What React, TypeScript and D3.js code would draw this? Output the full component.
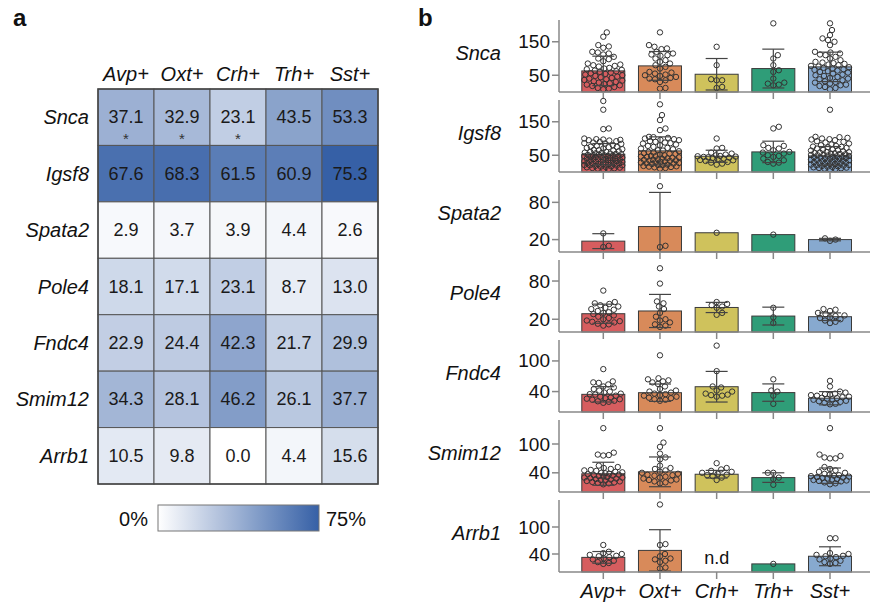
import React from "react";
import * as d3 from "d3";

const cellTypes = ["Avp+", "Oxt+", "Crh+", "Trh+", "Sst+"];
const genes = ["Snca", "Igsf8", "Spata2", "Pole4", "Fndc4", "Smim12", "Arrb1"];

// Panel a: percentage of cells expressing each gene
const heatSnca = [37.1, 32.9, 23.1, 43.5, 53.3];
const heatIgsf8 = [67.6, 68.3, 61.5, 60.9, 75.3];
const heatSpata2 = [2.9, 3.7, 3.9, 4.4, 2.6];
const heatPole4 = [18.1, 17.1, 23.1, 8.7, 13.0];
const heatFndc4 = [22.9, 24.4, 42.3, 21.7, 29.9];
const heatSmim12 = [34.3, 28.1, 46.2, 26.1, 37.7];
const heatArrb1 = [10.5, 9.8, 0.0, 4.4, 15.6];
const heatStars = [[0, 0], [0, 1], [0, 2]]; // [geneIndex, cellIndex]
const heatRows = [heatSnca, heatIgsf8, heatSpata2, heatPole4, heatFndc4, heatSmim12, heatArrb1];

// Panel b: bar means, SDs and individual cells
const meanSnca = [63, 78, 53, 70, 75];
const sdSnca = [44, 43, 47, 58, 44];
const meanIgsf8 = [53, 63, 47, 60, 48];
const sdIgsf8 = [32, 42, 18, 32, 28];
const meanSpata2 = [17.5, 41, 31, 28, 20];
const sdSpata2 = [12, 55, 0, 0, 2];
const meanPole4 = [28.7, 33, 38.5, 25, 24];
const sdPole4 = [15, 26, 8, 14, 6];
const meanFndc4 = [34.6, 37.8, 49.5, 38, 27];
const sdFndc4 = [15, 17, 30, 17, 13];
const meanSmim12 = [38, 42, 37, 30, 34];
const sdSmim12 = [24, 31, 8, 10, 16];
const meanArrb1 = [32.5, 48, null, 18, 35];
const sdArrb1 = [13, 46, 0, 0, 21];

const ptsSnca = [
  [178, 165, 140, 136, 132, 120, 118, 115, 112, 105, 100, 98, 92, 85, 82, 80, 78, 76, 72, 70, 68, 66, 64, 62, 60, 58, 56, 54, 52, 50, 48, 46, 44, 42, 40, 38, 36, 34, 32, 30, 28, 26, 24, 22, 20, 18, 15, 12, 10, 8],
  [178, 140, 135, 130, 128, 120, 115, 112, 110, 108, 100, 95, 90, 85, 80, 75, 70, 60, 58, 55, 52, 50, 48, 45, 42, 40, 38, 35, 30, 12, 10],
  [135, 80, 38, 35, 35, 15, 12],
  [205, 110, 100, 80, 65, 60, 40, 28, 25, 22, 20],
  [205, 185, 170, 160, 155, 150, 140, 120, 118, 115, 112, 110, 105, 100, 95, 90, 88, 86, 84, 82, 80, 78, 76, 74, 72, 70, 68, 66, 64, 62, 60, 58, 55, 52, 50, 48, 45, 42, 40, 38, 35, 32, 30, 28, 25, 22, 20, 18, 15, 12, 8],
];
const ptsIgsf8 = [
  [212, 186, 130, 128, 100, 98, 97, 96, 95, 94, 92, 90, 88, 86, 85, 84, 80, 78, 76, 75, 74, 72, 70, 68, 66, 65, 64, 62, 60, 60, 58, 57, 56, 55, 54, 53, 52, 51, 50, 50, 49, 48, 47, 46, 45, 45, 44, 43, 42, 41, 40, 40, 39, 38, 37, 36, 35, 35, 34, 33, 32, 31, 30, 30, 29, 28, 27, 26, 25, 25, 24, 23, 22, 21, 20, 20, 19, 18, 17, 16, 15, 14, 13, 12, 11, 10, 9, 8],
  [202, 170, 155, 130, 125, 105, 104, 102, 100, 98, 96, 95, 92, 90, 88, 86, 85, 82, 80, 78, 75, 72, 70, 68, 65, 64, 62, 60, 58, 56, 55, 54, 52, 50, 48, 47, 46, 45, 44, 42, 41, 40, 38, 37, 36, 35, 34, 33, 32, 30, 29, 28, 27, 26, 25, 24, 22, 21, 20, 18, 17, 16, 15, 14, 12, 10],
  [100, 72, 70, 58, 55, 52, 50, 48, 47, 46, 45, 44, 43, 42, 40, 38, 36, 35, 33, 30, 28, 25, 22],
  [135, 130, 80, 78, 72, 70, 65, 60, 58, 55, 50, 48, 45, 40, 35, 30, 28, 25],
  [186, 105, 104, 102, 100, 98, 97, 95, 92, 90, 88, 85, 82, 80, 78, 76, 75, 74, 72, 70, 68, 66, 65, 64, 62, 60, 59, 58, 57, 56, 55, 54, 53, 52, 51, 50, 49, 48, 47, 46, 45, 44, 43, 42, 41, 40, 39, 38, 37, 36, 35, 34, 33, 32, 31, 30, 29, 28, 27, 26, 25, 24, 23, 22, 21, 20, 19, 18, 17, 16, 15, 14, 13, 12, 11, 10, 9, 8],
];
const ptsSpata2 = [[30, 10, 8], [106, 8, 10], [31], [28], [18, 20, 22]];
const ptsPole4 = [
  [65, 47, 45, 44, 42, 40, 38, 36, 35, 33, 31, 30, 28, 26, 24, 22, 20, 18, 17, 16, 15, 13, 12, 10],
  [100, 76, 48, 45, 40, 36, 30, 24, 20, 18, 15, 12, 10, 8],
  [47, 44, 42, 40, 38, 30, 27],
  [38, 14, 23],
  [36, 35, 33, 30, 28, 26, 25, 23, 22, 20, 18, 16, 14],
];
const ptsFndc4 = [
  [84, 60, 58, 57, 54, 50, 48, 45, 42, 40, 38, 36, 35, 34, 32, 30, 28, 27, 26, 25, 24, 22, 21, 20, 18],
  [111, 66, 64, 62, 60, 58, 55, 50, 45, 42, 40, 38, 36, 35, 33, 32, 30, 28, 27, 25, 24, 22],
  [130, 80, 50, 48, 42, 40, 36, 34, 33, 32, 30],
  [64, 42, 40, 32, 16],
  [61, 50, 40, 38, 36, 35, 34, 33, 32, 30, 29, 28, 27, 26, 25, 24, 22, 21, 20, 18, 16, 15],
];
const ptsSmim12 = [
  [133, 82, 78, 77, 76, 55, 52, 50, 48, 46, 45, 44, 42, 41, 40, 39, 38, 37, 36, 35, 34, 33, 32, 31, 30, 30, 29, 28, 27, 26, 25, 24, 23, 22, 21, 20, 19, 18, 16],
  [133, 103, 94, 80, 72, 68, 55, 50, 48, 45, 42, 40, 38, 36, 35, 34, 32, 30, 28, 26, 25, 24, 22, 20, 18],
  [60, 50, 47, 44, 42, 40, 38, 36, 35, 33, 30, 25],
  [40, 40, 30, 27, 15],
  [133, 78, 75, 72, 70, 70, 52, 48, 45, 42, 40, 38, 36, 35, 34, 33, 32, 31, 30, 29, 28, 27, 26, 25, 24, 23, 22, 20, 18, 16],
];
const ptsArrb1 = [
  [60, 45, 42, 40, 38, 36, 35, 33, 30, 28, 25, 22, 20, 18],
  [150, 62, 60, 40, 35, 30, 28, 25, 22, 10, 8],
  [],
  [18],
  [75, 75, 42, 40, 38, 36, 35, 33, 30, 28, 25, 22, 20, 18],
];

const yMax = [215, 215, 116, 113, 141, 150, 160];
const yTicks = [[50, 150], [50, 150], [20, 80], [20, 80], [40, 100], [40, 100], [40, 100]];

const panels = [
  { mean: meanSnca, sd: sdSnca, pts: ptsSnca },
  { mean: meanIgsf8, sd: sdIgsf8, pts: ptsIgsf8 },
  { mean: meanSpata2, sd: sdSpata2, pts: ptsSpata2 },
  { mean: meanPole4, sd: sdPole4, pts: ptsPole4 },
  { mean: meanFndc4, sd: sdFndc4, pts: ptsFndc4 },
  { mean: meanSmim12, sd: sdSmim12, pts: ptsSmim12 },
  { mean: meanArrb1, sd: sdArrb1, pts: ptsArrb1 },
];

const barColors = ["#d65d5f", "#d88a5a", "#cfc25c", "#2f9d78", "#87a9cf"];
const FONT = "'Liberation Sans', Arial, Helvetica, sans-serif";

function swarm(vals: number[], y: (v: number) => number, r: number, maxHalf: number) {
  const order = vals.map((v, i) => i).sort((a, b) => vals[a] - vals[b]);
  const placed: { x: number; y: number }[] = [];
  const out: { x: number; y: number }[] = new Array(vals.length);
  const d = 2 * r;
  const cands: number[] = [0];
  for (let s = 0.5; s <= maxHalf; s += 0.5) { cands.push(s, -s); }
  for (const i of order) {
    const py = y(vals[i]);
    let best = 0, bestD = -1;
    for (const dx of cands) {
      let minD = Infinity;
      for (const p of placed) {
        if (Math.abs(p.y - py) >= d) continue;
        const dd = Math.hypot(p.x - dx, p.y - py);
        if (dd < minD) minD = dd;
      }
      if (minD >= d) { best = dx; break; }
      if (minD > bestD) { bestD = minD; best = dx; }
    }
    const pt = { x: best, y: py };
    placed.push(pt);
    out[i] = pt;
  }
  return out;
}

export default function App() {
  const W = 870, H = 606;
  const hx = d3.scaleBand().domain(cellTypes).range([98, 378]);
  const hy = d3.scaleBand().domain(genes).range([89, 484]);
  const color = d3.scaleLinear<string>().domain([0, 75]).range(["#ffffff", "#3660a6"]).clamp(true);

  const bx = d3.scalePoint().domain(cellTypes).range([603.3, 830]);
  const barW = 43;
  const axisX = 559;
  const R = 2.7;

  return (
    <svg width={W} height={H} style={{ display: "block", position: "absolute", left: 0, top: 0 }} fontFamily={FONT}>
      <defs>
        <linearGradient id="cbar" x1="0" x2="1" y1="0" y2="0">
          {d3.range(0, 1.01, 0.1).map((t) => (
            <stop key={t} offset={t} stopColor={color(t * 75)} />
          ))}
        </linearGradient>
      </defs>
      <rect width={W} height={H} fill="#fff" />
      <text x={13} y={26} fontSize={24} fontWeight="bold" fill="#111">a</text>
      <text x={418} y={26} fontSize={24} fontWeight="bold" fill="#111">b</text>

      {cellTypes.map((c) => (
        <text key={c} x={hx(c)! + hx.bandwidth() / 2} y={81} fontSize={20} fontStyle="italic" textAnchor="middle" fill="#111">{c}</text>
      ))}
      {genes.map((g, gi) => (
        <g key={g}>
          <text x={89} y={hy(g)! + hy.bandwidth() / 2} fontSize={20} fontStyle="italic" textAnchor="end" dominantBaseline="central" fill="#111">{g}</text>
          {cellTypes.map((c, ci) => {
            const v = heatRows[gi][ci];
            const star = heatStars.some(([a, b]) => a === gi && b === ci);
            return (
              <g key={c}>
                <rect x={hx(c)} y={hy(g)} width={hx.bandwidth()} height={hy.bandwidth()} fill={color(v)} stroke="#555" strokeWidth={1} />
                <text x={hx(c)! + hx.bandwidth() / 2} y={hy(g)! + hy.bandwidth() / 2} fontSize={18} textAnchor="middle" dominantBaseline="central" fill="#1a1a1a">{v.toFixed(1)}</text>
                {star && (
                  <text x={hx(c)! + hx.bandwidth() / 2} y={hy(g)! + hy.bandwidth() / 2 + 27} fontSize={15} textAnchor="middle" fill="#333">*</text>
                )}
              </g>
            );
          })}
        </g>
      ))}
      <rect x={98} y={89} width={280} height={395} fill="none" stroke="#444" strokeWidth={1.5} />

      <rect x={158} y={505} width={161} height={26} fill="url(#cbar)" stroke="#777" strokeWidth={1} />
      <text x={148} y={526} fontSize={20} textAnchor="end" fill="#111">0%</text>
      <text x={326} y={526} fontSize={20} textAnchor="start" fill="#111">75%</text>

      {panels.map((p, pi) => {
        const top = 20 + 80 * pi;
        const bottom = 92 + 80 * pi;
        const y = d3.scaleLinear().domain([0, yMax[pi]]).range([bottom, top]);
        return (
          <g key={pi}>
            <text x={501} y={top + 40} fontSize={20} fontStyle="italic" textAnchor="end" fill="#111">{genes[pi]}</text>
            {p.mean.map((m, ci) => {
              const cx = bx(cellTypes[ci])!;
              if (m === null) {
                return <text key={ci} x={cx} y={bottom - 8} fontSize={18} textAnchor="middle" fill="#111">n.d</text>;
              }
              const sw = swarm(p.pts[ci], y, R, 19);
              const sd = p.sd[ci];
              const hi = y(m + sd);
              const lo = y(Math.max(0, m - sd));
              return (
                <g key={ci}>
                  <rect x={cx - barW / 2} y={y(m)} width={barW} height={bottom - y(m)} fill={barColors[ci]} stroke="#3a3a3a" strokeWidth={1} />
                  {sw.map((s, k) => (
                    <circle key={k} cx={cx + s.x} cy={s.y} r={R} fill="none" stroke="#333" strokeWidth={1} />
                  ))}
                  {sd > 0 && (
                    <g stroke="#444" strokeWidth={1.2}>
                      <line x1={cx} x2={cx} y1={hi} y2={lo} />
                      <line x1={cx - 11} x2={cx + 11} y1={hi} y2={hi} />
                      {m - sd > 0 && <line x1={cx - 11} x2={cx + 11} y1={lo} y2={lo} />}
                    </g>
                  )}
                </g>
              );
            })}
            <line x1={axisX} x2={axisX} y1={top} y2={bottom} stroke="#888" strokeWidth={1.5} />
            <line x1={axisX} x2={870} y1={bottom} y2={bottom} stroke="#888" strokeWidth={1.5} />
            {yTicks[pi].map((t) => (
              <g key={t}>
                <line x1={axisX - 7} x2={axisX} y1={y(t)} y2={y(t)} stroke="#888" strokeWidth={1.5} />
                <text x={550} y={y(t)} fontSize={19} textAnchor="end" dominantBaseline="central" fill="#111">{t}</text>
              </g>
            ))}
            {cellTypes.map((c) => (
              <line key={c} x1={bx(c)} x2={bx(c)} y1={bottom} y2={bottom + 7} stroke="#888" strokeWidth={1.5} />
            ))}
          </g>
        );
      })}
      {cellTypes.map((c) => (
        <text key={c} x={bx(c)} y={598} fontSize={20} fontStyle="italic" textAnchor="middle" fill="#111">{c}</text>
      ))}
    </svg>
  );
}
